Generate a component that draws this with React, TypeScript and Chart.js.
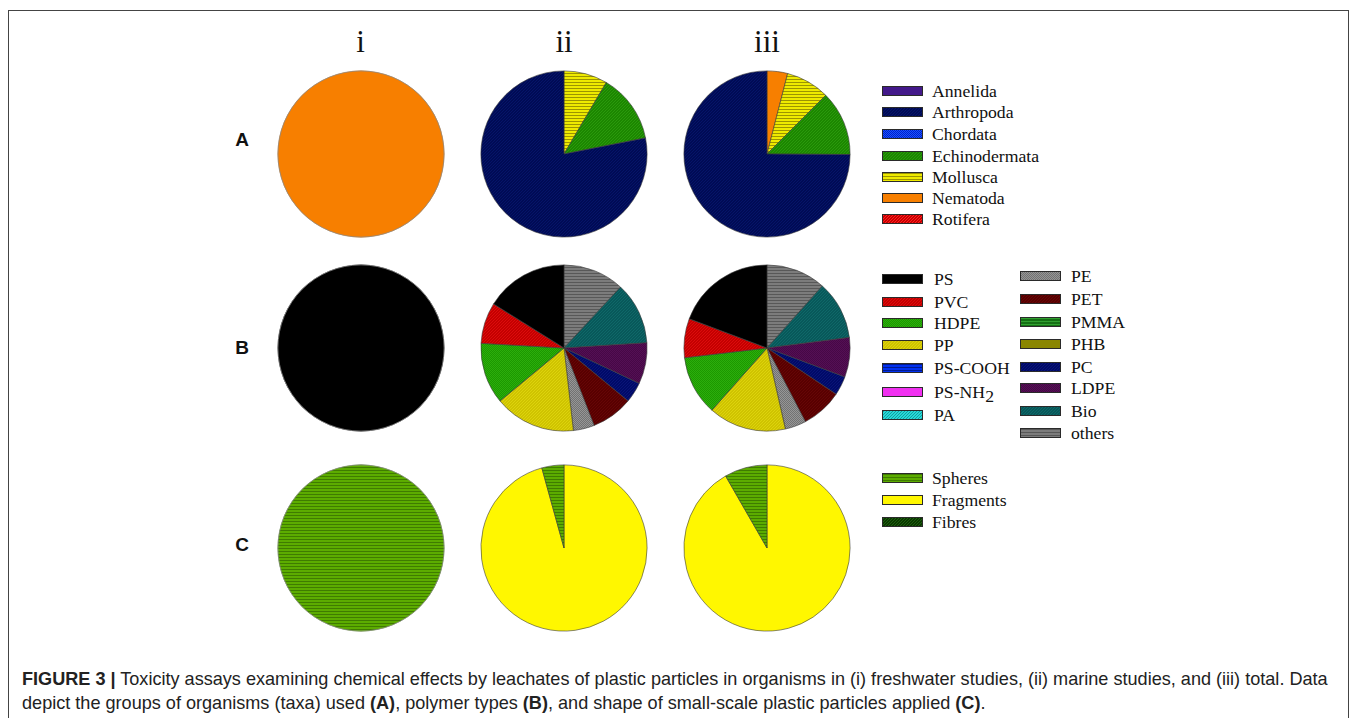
import React, { useEffect, useRef } from "react";
import { Chart, registerables } from "chart.js";
Chart.register(...registerables);

// ---------------- data ----------------
const columnLabels = ["i", "ii", "iii"];
const rowLabels = ["A", "B", "C"];

const taxaLabels = ["Annelida", "Arthropoda", "Chordata", "Echinodermata", "Mollusca", "Nematoda", "Rotifera"];
const taxaFreshwater = [0, 0, 0, 0, 0, 100, 0];
const taxaMarine = [0, 78.1, 0, 13.4, 8.5, 0, 0];
const taxaTotal = [0, 74.9, 0, 12.6, 8.5, 4.0, 0];

const polymerLabels = ["PS", "PVC", "HDPE", "PP", "PS-COOH", "PS-NH2", "PA", "PE", "PET", "PMMA", "PHB", "PC", "LDPE", "Bio", "others"];
const polymerFreshwater = [100, 0, 0, 0, 0, 0, 0, 0, 0, 0, 0, 0, 0, 0, 0];
const polymerMarine = [16.1, 8.0, 11.9, 15.8, 0, 0, 0, 4.1, 8.1, 0, 0, 4.0, 8.0, 12.1, 11.9];
const polymerTotal = [19.3, 7.6, 11.6, 15.1, 0, 0, 0, 4.1, 8.0, 0, 0, 3.7, 7.7, 11.4, 11.6];

const shapeLabels = ["Spheres", "Fragments", "Fibres"];
const shapeFreshwater = [100, 0, 0];
const shapeMarine = [4.3, 95.7, 0];
const shapeTotal = [8.3, 91.7, 0];

// fill styles: [base, foreground, kind]
type Fill = [string, string, string];
const fills: Record<string, Fill> = {
  Annelida: ["#43198a", "#52259a", "solid"],
  Arthropoda: ["#000b55", "#061468", "diag"],
  Chordata: ["#0022c8", "#1a50ff", "checker"],
  Echinodermata: ["#1c8600", "#2a9a0c", "diag"],
  Mollusca: ["#eeea00", "#9c9400", "hstripe"],
  Nematoda: ["#f77f00", "#f77f00", "solid"],
  Rotifera: ["#c80000", "#ff2020", "diag"],
  PS: ["#000000", "#000000", "solid"],
  PVC: ["#c40000", "#dc0c0c", "diag"],
  HDPE: ["#1c9800", "#2cae0c", "checker"],
  PP: ["#cfc300", "#ddd40c", "diag"],
  "PS-COOH": ["#0030f0", "#001a90", "hstripe"],
  "PS-NH2": ["#f030f0", "#f030f0", "solid"],
  PA: ["#28d8d8", "#10a0a0", "diag"],
  PE: ["#727272", "#969696", "checker"],
  PET: ["#580000", "#660606", "diag"],
  PMMA: ["#147014", "#30a030", "hstripe"],
  PHB: ["#8a8600", "#8a8600", "solid"],
  PC: ["#000a68", "#0a1478", "diag"],
  LDPE: ["#460846", "#540f54", "checker"],
  Bio: ["#08585a", "#0f6868", "diag"],
  others: ["#7c7c7c", "#585858", "hstripe"],
  Spheres: ["#5cac00", "#3f7c00", "hstripe"],
  Fragments: ["#fff700", "#fff700", "solid"],
  Fibres: ["#0a3a00", "#1e5e10", "diag"],
};

function makeTile(f: Fill): HTMLCanvasElement {
  const [base, fg, kind] = f;
  const n = 6;
  const c = document.createElement("canvas");
  c.width = n;
  c.height = n;
  const g = c.getContext("2d")!;
  g.fillStyle = base;
  g.fillRect(0, 0, n, n);
  g.fillStyle = fg;
  for (let y = 0; y < n; y++) {
    for (let x = 0; x < n; x++) {
      let on = false;
      if (kind === "diag") on = (x + y) % 3 === 0;
      else if (kind === "checker") on = (x + y) % 2 === 0;
      else if (kind === "hstripe") on = y % 3 === 0;
      if (on) g.fillRect(x, y, 1, 1);
    }
  }
  return c;
}

// strokes the outer circle of a single-slice pie (avoids the radial seam line)
const outlinePlugin = {
  id: "outline",
  afterDatasetsDraw(chart: any) {
    const meta = chart.getDatasetMeta(0);
    if (!meta || meta.data.length !== 1) return;
    const arc = meta.data[0];
    const ctx = chart.ctx;
    ctx.save();
    ctx.beginPath();
    ctx.arc(arc.x, arc.y, arc.outerRadius - 0.3, 0, Math.PI * 2);
    ctx.strokeStyle = "#8a8a8a";
    ctx.lineWidth = 0.8;
    ctx.stroke();
    ctx.restore();
  },
};

const PIE = 168;

function Pie(props: { cx: number; cy: number; labels: string[]; values: number[] }) {
  const ref = useRef<HTMLCanvasElement>(null);
  useEffect(() => {
    const canvas = ref.current!;
    const ctx = canvas.getContext("2d")!;
    const idx = props.labels.map((_, i) => i).filter((i) => props.values[i] > 0).reverse();
    const single = idx.length === 1;
    const chart = new Chart(canvas, {
      type: "pie",
      data: {
        labels: idx.map((i) => props.labels[i]),
        datasets: [
          {
            data: idx.map((i) => props.values[i]),
            backgroundColor: idx.map((i) => ctx.createPattern(makeTile(fills[props.labels[i]]), "repeat") as any),
            borderColor: "#3a3a3a",
            borderWidth: single ? 0 : 0.6,
          },
        ],
      },
      options: {
        animation: false,
        responsive: false,
        layout: { padding: 0.6 },
        plugins: { legend: { display: false }, tooltip: { enabled: false } },
      },
      plugins: [outlinePlugin],
    });
    return () => chart.destroy();
  }, []);
  return (
    <canvas
      ref={ref}
      width={PIE}
      height={PIE}
      style={{ position: "absolute", left: props.cx - PIE / 2, top: props.cy - PIE / 2, width: PIE, height: PIE }}
    />
  );
}

function Swatch(props: { label: string; x: number; y: number }) {
  const url = makeTile(fills[props.label]).toDataURL();
  return (
    <div
      style={{
        position: "absolute",
        left: props.x,
        top: props.y - 5,
        width: 39,
        height: 8,
        border: "1px solid #2a2a2a",
        backgroundImage: `url(${url})`,
        backgroundSize: "6px 6px",
        imageRendering: "pixelated",
      }}
    />
  );
}

function LegendItem(props: { label: string; sx: number; tx: number; y: number }) {
  const text =
    props.label === "PS-NH2" ? (
      <span>
        PS-NH<span style={{ position: "relative", top: 4 }}>2</span>
      </span>
    ) : (
      props.label
    );
  return (
    <>
      <Swatch label={props.label} x={props.sx} y={props.y} />
      <div
        style={{
          position: "absolute",
          left: props.tx,
          top: props.y - 12,
          height: 24,
          lineHeight: "24px",
          fontFamily: "'Liberation Serif', 'Times New Roman', serif",
          fontSize: 17.7,
          color: "#111",
          whiteSpace: "nowrap",
        }}
      >
        {text}
      </div>
    </>
  );
}

const colX = [360.5, 564, 767];
const rowY = [153.5, 348, 548];
const rowLabelY = [140, 348, 545];
const taxaLegendY = [90.7, 112.3, 134, 155.7, 176.7, 198, 219];
const polyLegendY1 = [279, 301.7, 323.3, 345, 367.7, 391.7, 415];
const polyLegendY2 = [275.7, 299.3, 321.7, 344, 366.7, 388.3, 410.7, 432.7];
const shapeLegendY = [478.3, 500, 521.7];

export default function App() {
  const rows = [
    { labels: taxaLabels, series: [taxaFreshwater, taxaMarine, taxaTotal] },
    { labels: polymerLabels, series: [polymerFreshwater, polymerMarine, polymerTotal] },
    { labels: shapeLabels, series: [shapeFreshwater, shapeMarine, shapeTotal] },
  ];
  return (
    <div style={{ position: "fixed", left: 0, top: 0, width: 1358, height: 718, background: "#fff", overflow: "hidden" }}>
      <div
        style={{
          position: "absolute",
          left: 8,
          top: 10,
          width: 1341,
          height: 720,
          border: "1.5px solid #444",
          boxSizing: "border-box",
        }}
      />
      {columnLabels.map((c, i) => (
        <div
          key={c}
          style={{
            position: "absolute",
            left: colX[i] - 50,
            width: 100,
            top: 22,
            textAlign: "center",
            fontFamily: "'Liberation Serif', 'Times New Roman', serif",
            fontSize: 31,
            lineHeight: "40px",
            color: "#111",
          }}
        >
          {c}
        </div>
      ))}
      {rowLabels.map((r, i) => (
        <div
          key={r}
          style={{
            position: "absolute",
            left: 222,
            width: 40,
            top: rowLabelY[i] - 12,
            textAlign: "center",
            fontFamily: "'Liberation Sans', Arial, sans-serif",
            fontWeight: "bold",
            fontSize: 19,
            lineHeight: "24px",
            color: "#111",
          }}
        >
          {r}
        </div>
      ))}
      {rows.map((row, ri) =>
        row.series.map((vals, ci) => (
          <Pie key={ri + "-" + ci} cx={colX[ci]} cy={rowY[ri]} labels={row.labels} values={vals} />
        ))
      )}
      {taxaLabels.map((l, i) => (
        <LegendItem key={l} label={l} sx={882} tx={932} y={taxaLegendY[i]} />
      ))}
      {polymerLabels.slice(0, 7).map((l, i) => (
        <LegendItem key={l} label={l} sx={882} tx={934} y={polyLegendY1[i]} />
      ))}
      {polymerLabels.slice(7).map((l, i) => (
        <LegendItem key={l} label={l} sx={1020} tx={1071} y={polyLegendY2[i]} />
      ))}
      {shapeLabels.map((l, i) => (
        <LegendItem key={l} label={l} sx={882} tx={932} y={shapeLegendY[i]} />
      ))}
      <div
        style={{
          position: "absolute",
          left: 22,
          top: 667,
          fontFamily: "'Liberation Sans', Arial, sans-serif",
          fontSize: 18.1,
          lineHeight: "24px",
          color: "#222",
          whiteSpace: "nowrap",
        }}
      >
        <div>
          <b>FIGURE 3 |</b> Toxicity assays examining chemical effects by leachates of plastic particles in organisms in (i)
          freshwater studies, (ii) marine studies, and (iii) total. Data
        </div>
        <div>
          depict the groups of organisms (taxa) used <b>(A)</b>, polymer types <b>(B)</b>, and shape of small-scale plastic
          particles applied <b>(C)</b>.
        </div>
      </div>
    </div>
  );
}
